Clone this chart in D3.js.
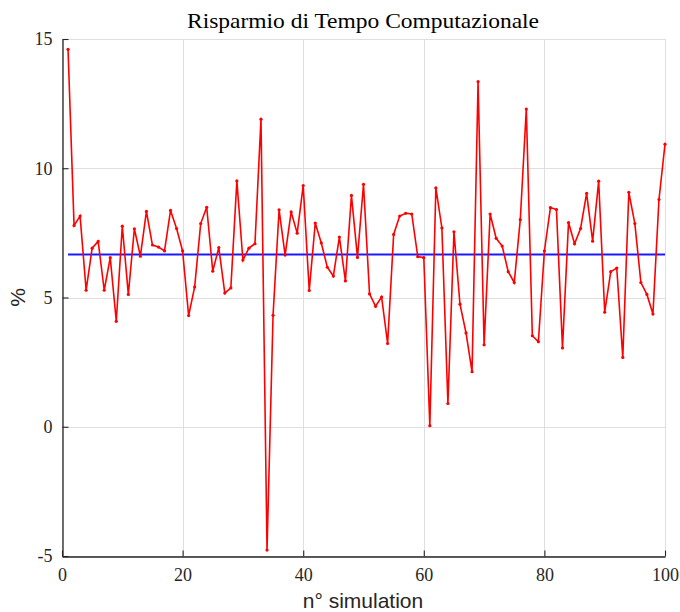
<!DOCTYPE html>
<html>
<head>
<meta charset="utf-8">
<script src="https://cdn.jsdelivr.net/npm/d3@7"></script>
<style>
  html, body { margin: 0; padding: 0; background: #fff; }
  svg { display: block; }
</style>
</head>
<body>
<svg id="chart" width="680" height="612"></svg>
<script>
// Percentage of computational time saved, one value per simulation run
const savings = [
  14.60, 7.79, 8.15, 5.28, 6.91, 7.17, 5.28, 6.54, 4.08, 7.76,
  5.12, 7.66, 6.60, 8.33, 7.03, 6.95, 6.80, 8.37, 7.67, 6.80,
  4.30, 5.41, 7.86, 8.49, 6.02, 6.93, 5.17, 5.37, 9.51, 6.45,
  6.91, 7.08, 11.90, -4.77, 4.31, 8.39, 6.64, 8.31, 7.49, 9.33,
  5.27, 7.88, 7.11, 6.17, 5.83, 7.34, 5.64, 8.95, 6.55, 9.38,
  5.14, 4.66, 5.02, 3.22, 7.44, 8.15, 8.26, 8.23, 6.58, 6.54,
  0.04, 9.24, 7.69, 0.90, 7.54, 4.74, 3.63, 2.13, 13.35, 3.17,
  8.23, 7.29, 6.99, 6.00, 5.58, 8.01, 12.29, 3.52, 3.29, 6.80,
  8.48, 8.40, 3.05, 7.90, 7.08, 7.67, 9.03, 7.18, 9.50, 4.43,
  6.00, 6.14, 2.68, 9.07, 7.86, 5.58, 5.12, 4.36, 8.79, 10.93
];
const runs = savings.map((_, i) => i + 1);
const xTicks = [0, 20, 40, 60, 80, 100];
const yTicks = [-5, 0, 5, 10, 15];
const titleText = "Risparmio di Tempo Computazionale";
const xLabel = "n\u00B0 simulation";
const yLabel = "%";

const svg = d3.select("#chart");
const margin = { left: 62, right: 15, top: 39, bottom: 56 };
const W = 680, H = 612;
const x = d3.scaleLinear().domain([0, 100]).range([margin.left, W - margin.right]);
const y = d3.scaleLinear().domain([-5, 15]).range([H - margin.bottom, margin.top]);

const serif = "'Liberation Serif', 'DejaVu Serif', serif";
const sans = "'Liberation Sans', Arial, sans-serif";

// grid
const grid = svg.append("g").attr("stroke", "#dfdfdf").attr("stroke-width", 1);
grid.selectAll("line.gx").data(xTicks).join("line")
  .attr("x1", d => Math.round(x(d)) + 0.5).attr("x2", d => Math.round(x(d)) + 0.5)
  .attr("y1", y(-5)).attr("y2", y(15));
grid.selectAll("line.gy").data(yTicks).join("line")
  .attr("y1", d => Math.round(y(d)) + 0.5).attr("y2", d => Math.round(y(d)) + 0.5)
  .attr("x1", x(0)).attr("x2", x(100));

// axes
const xAxis = d3.axisBottom(x).tickValues(xTicks).tickSizeInner(-6).tickSizeOuter(0).tickPadding(12);
const yAxis = d3.axisLeft(y).tickValues(yTicks).tickSizeInner(-6).tickSizeOuter(0).tickPadding(10);

const gx = svg.append("g").attr("transform", `translate(0,${Math.round(y(-5)) + 0.5})`).call(xAxis);
const gy = svg.append("g").attr("transform", `translate(${Math.round(x(0)) + 0.5},0)`).call(yAxis);
[gx, gy].forEach(g => {
  g.select(".domain").attr("stroke", "#262626").attr("stroke-width", 1.3);
  g.selectAll(".tick line").attr("stroke", "#262626").attr("stroke-width", 1.1);
  g.selectAll(".tick text").attr("fill", "#262626")
    .style("font-family", serif).style("font-size", "18px");
});
gy.selectAll(".tick text").text(d => d < 0 ? "-" + Math.abs(d) : d);

// mean line, snapped to the pixel grid so it stays crisp
const mean = d3.mean(savings);
const yMean = Math.round(y(mean)) + 0.5;
svg.append("line")
  .attr("x1", x(runs[0])).attr("x2", x(runs[runs.length - 1]))
  .attr("y1", yMean).attr("y2", yMean)
  .attr("stroke", "#1a1aff").attr("stroke-width", 2);

// data line with markers
const line = d3.line().x((d, i) => x(runs[i])).y(d => y(d));
svg.append("path").datum(savings)
  .attr("d", line).attr("fill", "none")
  .attr("stroke", "#ff0000").attr("stroke-width", 1.6).attr("stroke-linejoin", "miter");
svg.append("g").selectAll("circle").data(savings).join("circle")
  .attr("cx", (d, i) => x(runs[i])).attr("cy", d => y(d)).attr("r", 1.6)
  .attr("fill", "#ff0000");

// texts
svg.append("text").attr("x", 363).attr("y", 28).attr("text-anchor", "middle")
  .style("font-family", serif).style("font-size", "22px").attr("fill", "#000")
  .attr("textLength", 352).attr("lengthAdjust", "spacingAndGlyphs")
  .text(titleText);
svg.append("text").attr("x", 363).attr("y", 608).attr("text-anchor", "middle")
  .style("font-family", sans).style("font-size", "21px").attr("fill", "#262626")
  .text(xLabel);
svg.append("text").attr("transform", `translate(25,${y(5)}) rotate(-90)`).attr("text-anchor", "middle")
  .style("font-family", sans).style("font-size", "21px").attr("fill", "#262626")
  .text(yLabel);
</script>
</body>
</html>
